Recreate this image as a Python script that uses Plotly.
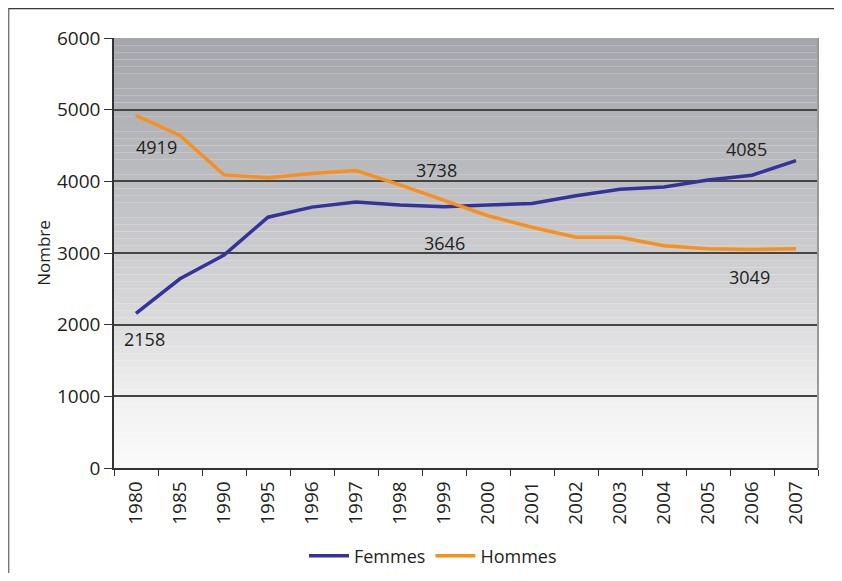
import plotly.graph_objects as go

# Données
annees = ['1980', '1985', '1990', '1995', '1996', '1997', '1998', '1999',
          '2000', '2001', '2002', '2003', '2004', '2005', '2006', '2007']
femmes = [2158, 2640, 2970, 3500, 3640, 3710, 3670, 3646,
          3670, 3690, 3800, 3890, 3920, 4020, 4085, 4290]
hommes = [4919, 4640, 4090, 4050, 4110, 4150, 3950, 3738,
          3520, 3360, 3220, 3220, 3100, 3060, 3049, 3060]

# étiquettes de valeurs : (série, année, décalage x, décalage y en px)
etiquettes = [
    ('h', '1980', 20, -32), ('f', '1980', 8, -26),
    ('h', '1999', -8, 30), ('f', '1999', 0, -36),
    ('f', '2006', -6, 26), ('h', '2006', -3, -28),
]

BLEU = '#33339a'
ORANGE = '#f7901e'
FONT = 'Open Sans'

fig = go.Figure()

fig.add_trace(go.Scatter(
    x=annees, y=femmes, name='Femmes', mode='lines',
    line=dict(color=BLEU, width=3.5)
))
fig.add_trace(go.Scatter(
    x=annees, y=hommes, name='Hommes', mode='lines',
    line=dict(color=ORANGE, width=3.5)
))

for serie, annee, dx, dy in etiquettes:
    vals = femmes if serie == 'f' else hommes
    i = annees.index(annee)
    v = vals[i]
    fig.add_annotation(
        x=i, y=v, text=str(v), showarrow=False,
        xshift=dx, yshift=dy, font=dict(family=FONT, size=18, color='#231f20')
    )

# fond dégradé de la zone de tracé
def melange(c1, c2, t):
    return tuple(round(a + (b - a) * t) for a, b in zip(c1, c2))

arrets = [(0.0, (250, 250, 250)), (0.17, (240, 240, 241)), (0.33, (220, 220, 222)),
          (0.67, (188, 189, 193)), (1.0, (164, 165, 170))]
n = 60
formes = []
for k in range(n):
    t = (k + 0.5) / n
    for (t0, c0), (t1, c1) in zip(arrets[:-1], arrets[1:]):
        if t0 <= t <= t1:
            c = melange(c0, c1, (t - t0) / (t1 - t0))
            break
    formes.append(dict(
        type='rect', xref='x domain', yref='y domain', layer='below',
        x0=0, x1=1, y0=k / n, y1=(k + 1) / n,
        fillcolor='rgb(%d,%d,%d)' % c, line=dict(width=0)
    ))

# cadre extérieur (haut et gauche)
formes.append(dict(type='line', xref='paper', yref='paper',
                   x0=-0.3, x1=1.3, y0=1.0686, y1=1.0686,
                   line=dict(color='#3a3a3a', width=1.5)))
formes.append(dict(type='line', xref='paper', yref='paper',
                   x0=-0.1500, x1=-0.1500, y0=-0.4, y1=1.0686,
                   line=dict(color='#777777', width=2)))
# bord droit de la zone de tracé
formes.append(dict(type='line', xref='x domain', yref='y domain',
                   x0=1, x1=1, y0=0, y1=1,
                   line=dict(color='#9a9a9e', width=2)))

# la page ajoute 8 px de marge : figure de 826x565 décalée de 8 px
fig.update_layout(
    width=826, height=565,
    margin=dict(l=106, r=16, t=30, b=105, autoexpand=False),
    paper_bgcolor='white',
    plot_bgcolor='rgba(0,0,0,0)',
    shapes=formes,
    font=dict(family=FONT, color='#231f20'),
    xaxis=dict(
        type='category', tickangle=-90, tickson='boundaries',
        ticks='outside', ticklen=6, tickcolor='#333',
        showline=True, linecolor='#333', linewidth=1.5,
        showgrid=False, tickfont=dict(size=19), automargin=False,
        ticklabelstandoff=4, range=[-0.5, 15.5]
    ),
    yaxis=dict(
        range=[0, 6000], dtick=1000,
        ticks='outside', ticklen=8, tickcolor='#333',
        showline=True, linecolor='#333', linewidth=1.5,
        showgrid=True, gridcolor='#454545', gridwidth=1.5,
        zeroline=False, tickfont=dict(size=19), automargin=False,
        title=dict(text='Nombre', font=dict(size=17), standoff=2)
    ),
    legend=dict(
        orientation='h', xref='container', yref='container',
        x=0.5145, xanchor='center', y=0.03, yanchor='middle',
        font=dict(size=18), bgcolor='rgba(0,0,0,0)', itemwidth=40
    ),
    showlegend=True
)

fig.write_html('out.html')
